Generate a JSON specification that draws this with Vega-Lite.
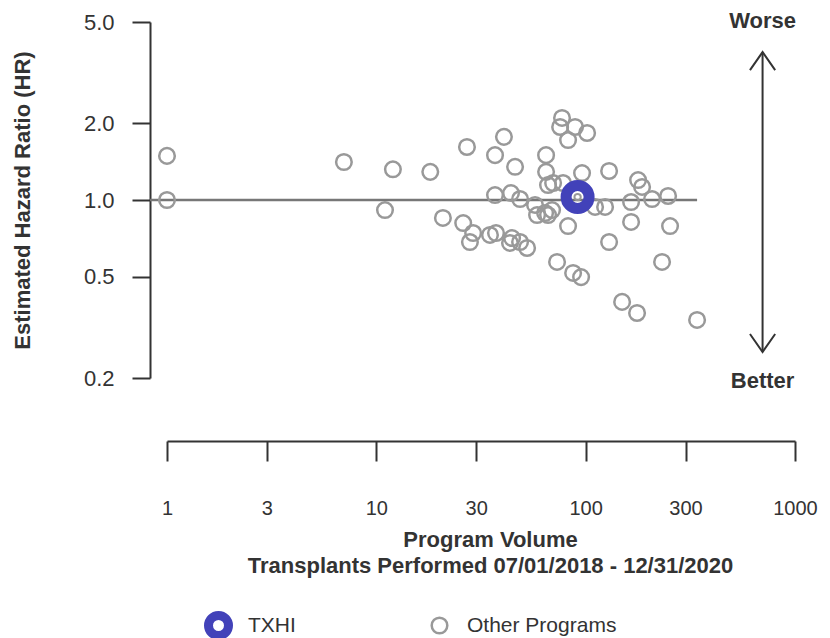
{
  "$schema": "https://vega.github.io/schema/vega-lite/v6.json",
  "autosize": {"type": "none"},
  "width": 628,
  "height": 356,
  "padding": {"left": 167, "top": 22, "right": 35, "bottom": 260},
  "background": "white",
  "config": {
    "view": {"stroke": null},
    "font": "Liberation Sans",
    "axis": {"grid": false, "domainColor": "#333", "tickColor": "#333", "domainWidth": 2, "tickWidth": 2, "labelColor": "#333", "titleColor": "#333", "labelFont": "Liberation Sans", "titleFont": "Liberation Sans", "labelFlush": false, "labelOverlap": false},
    "legend": {"orient": "none", "direction": "horizontal", "padding": 0, "labelFontSize": 21, "labelFont": "Liberation Sans", "labelColor": "#333", "title": null}
  },
  "resolve": {"scale": {"color": "independent"}, "legend": {"color": "independent"}},
  "datasets": {
    "programs": [
      {"volume": 1, "hr": 1.49, "group": "Other Programs"},
      {"volume": 1, "hr": 1.0, "group": "Other Programs"},
      {"volume": 7.0, "hr": 1.41, "group": "Other Programs"},
      {"volume": 12.0, "hr": 1.32, "group": "Other Programs"},
      {"volume": 18.1, "hr": 1.29, "group": "Other Programs"},
      {"volume": 11.0, "hr": 0.913, "group": "Other Programs"},
      {"volume": 20.8, "hr": 0.85, "group": "Other Programs"},
      {"volume": 27.1, "hr": 1.615, "group": "Other Programs"},
      {"volume": 40.7, "hr": 1.77, "group": "Other Programs"},
      {"volume": 36.9, "hr": 1.5, "group": "Other Programs"},
      {"volume": 46.0, "hr": 1.35, "group": "Other Programs"},
      {"volume": 64.7, "hr": 1.5, "group": "Other Programs"},
      {"volume": 77.1, "hr": 2.1, "group": "Other Programs"},
      {"volume": 75.5, "hr": 1.935, "group": "Other Programs"},
      {"volume": 89.0, "hr": 1.935, "group": "Other Programs"},
      {"volume": 101.6, "hr": 1.833, "group": "Other Programs"},
      {"volume": 82.4, "hr": 1.72, "group": "Other Programs"},
      {"volume": 64.7, "hr": 1.29, "group": "Other Programs"},
      {"volume": 66.1, "hr": 1.145, "group": "Other Programs"},
      {"volume": 69.9, "hr": 1.166, "group": "Other Programs"},
      {"volume": 78.0, "hr": 1.166, "group": "Other Programs"},
      {"volume": 96.1, "hr": 1.276, "group": "Other Programs"},
      {"volume": 129.4, "hr": 1.3, "group": "Other Programs"},
      {"volume": 178, "hr": 1.198, "group": "Other Programs"},
      {"volume": 186, "hr": 1.125, "group": "Other Programs"},
      {"volume": 247.6, "hr": 1.037, "group": "Other Programs"},
      {"volume": 207.6, "hr": 1.009, "group": "Other Programs"},
      {"volume": 164.8, "hr": 0.982, "group": "Other Programs"},
      {"volume": 123.8, "hr": 0.939, "group": "Other Programs"},
      {"volume": 110.9, "hr": 0.939, "group": "Other Programs"},
      {"volume": 36.9, "hr": 1.046, "group": "Other Programs"},
      {"volume": 44.0, "hr": 1.065, "group": "Other Programs"},
      {"volume": 48.6, "hr": 1.009, "group": "Other Programs"},
      {"volume": 57.3, "hr": 0.956, "group": "Other Programs"},
      {"volume": 58.6, "hr": 0.873, "group": "Other Programs"},
      {"volume": 64.0, "hr": 0.889, "group": "Other Programs"},
      {"volume": 66.1, "hr": 0.873, "group": "Other Programs"},
      {"volume": 69.1, "hr": 0.913, "group": "Other Programs"},
      {"volume": 26.0, "hr": 0.812, "group": "Other Programs"},
      {"volume": 29.0, "hr": 0.742, "group": "Other Programs"},
      {"volume": 28.0, "hr": 0.684, "group": "Other Programs"},
      {"volume": 34.9, "hr": 0.729, "group": "Other Programs"},
      {"volume": 37.3, "hr": 0.742, "group": "Other Programs"},
      {"volume": 44.5, "hr": 0.709, "group": "Other Programs"},
      {"volume": 43.5, "hr": 0.678, "group": "Other Programs"},
      {"volume": 48.6, "hr": 0.684, "group": "Other Programs"},
      {"volume": 52.5, "hr": 0.648, "group": "Other Programs"},
      {"volume": 82.4, "hr": 0.79, "group": "Other Programs"},
      {"volume": 164.8, "hr": 0.82, "group": "Other Programs"},
      {"volume": 253, "hr": 0.79, "group": "Other Programs"},
      {"volume": 129.4, "hr": 0.684, "group": "Other Programs"},
      {"volume": 73.0, "hr": 0.571, "group": "Other Programs"},
      {"volume": 87.1, "hr": 0.517, "group": "Other Programs"},
      {"volume": 95.1, "hr": 0.498, "group": "Other Programs"},
      {"volume": 231.7, "hr": 0.571, "group": "Other Programs"},
      {"volume": 149.3, "hr": 0.398, "group": "Other Programs"},
      {"volume": 176, "hr": 0.36, "group": "Other Programs"},
      {"volume": 340.6, "hr": 0.338, "group": "Other Programs"},
      {"volume": 91.5, "hr": 1.027, "group": "TXHI"}
    ],
    "reference": [{"from": 0.83, "to": 340.6, "hr": 1}],
    "arrow": [{"volume": 700, "top": 3.81, "bottom": 0.253}],
    "labels": [
      {"volume": 700, "hr": 4.74, "text": "Worse"},
      {"volume": 700, "hr": 0.1827, "text": "Better"}
    ]
  },
  "layer": [
    {
      "data": {"name": "reference"},
      "mark": {"type": "rule", "color": "#777", "strokeWidth": 2.5},
      "encoding": {
        "x": {"field": "from", "type": "quantitative", "scale": {"type": "log", "domain": [1, 1000], "nice": false},
          "axis": {"values": [1, 3, 10, 30, 100, 300, 1000], "format": "d", "offset": 63, "tickSize": 20, "labelFontSize": 20, "labelPadding": 37,
            "title": ["Program Volume", "Transplants Performed 07/01/2018 - 12/31/2020"], "titleFontSize": 22, "titleFontWeight": "bold", "titleLineHeight": 26, "titleX": 323, "titleY": 88, "titleBaseline": "top", "titleAnchor": "middle", "titleAlign": "center"}},
        "x2": {"field": "to"},
        "y": {"field": "hr", "type": "quantitative", "scale": {"type": "log", "domain": [0.2, 5], "nice": false},
          "axis": {"values": [0.2, 0.5, 1, 2, 5], "format": ".1f", "offset": 17, "tickSize": 18, "labelFontSize": 22, "labelPadding": 18,
            "title": "Estimated Hazard Ratio (HR)", "titleFontSize": 22, "titleFontWeight": "bold", "titleAngle": -90, "titleX": -128, "titleY": 178, "titleBaseline": "middle", "titleAlign": "center"}}
      }
    },
    {
      "data": {"name": "programs"},
      "transform": [{"filter": "datum.group !== 'TXHI'"}],
      "mark": {"type": "point", "filled": false, "shape": "circle", "opacity": 1, "size": 243, "strokeWidth": 2.5},
      "encoding": {
        "x": {"field": "volume", "type": "quantitative"},
        "y": {"field": "hr", "type": "quantitative"},
        "color": {"field": "group", "type": "nominal", "scale": {"domain": ["Other Programs"], "range": ["#999999"]},
          "legend": {"legendX": 262, "legendY": 593, "symbolSize": 243, "symbolStrokeWidth": 2.5, "labelOffset": 17, "symbolType": "circle"}}
      }
    },
    {
      "data": {"name": "programs"},
      "transform": [{"filter": "datum.group === 'TXHI'"}],
      "mark": {"type": "point", "filled": false, "shape": "circle", "opacity": 1, "size": 529, "strokeWidth": 11},
      "encoding": {
        "x": {"field": "volume", "type": "quantitative"},
        "y": {"field": "hr", "type": "quantitative"},
        "color": {"field": "group", "type": "nominal", "scale": {"domain": ["TXHI"], "range": ["#4242B9"]},
          "legend": {"legendX": 37, "legendY": 589, "symbolSize": 400, "symbolStrokeWidth": 9, "labelOffset": 15, "symbolType": "circle"}}
      }
    },
    {
      "data": {"name": "programs"},
      "transform": [{"filter": "datum.group === 'TXHI'"}],
      "mark": {"type": "point", "filled": false, "shape": "circle", "color": "#999999", "strokeWidth": 2, "size": 40, "opacity": 1},
      "encoding": {
        "x": {"field": "volume", "type": "quantitative"},
        "y": {"field": "hr", "type": "quantitative"}
      }
    },
    {
      "data": {"name": "arrow"},
      "mark": {"type": "rule", "color": "#333", "strokeWidth": 2},
      "encoding": {
        "x": {"field": "volume", "type": "quantitative"},
        "y": {"field": "top", "type": "quantitative"},
        "y2": {"field": "bottom"}
      }
    },
    {
      "data": {"name": "arrow"},
      "mark": {"type": "point", "filled": false, "shape": "M -0.7 1 L 0 0 L 0.7 1", "color": "#333", "strokeWidth": 2, "size": 1296, "opacity": 1},
      "encoding": {
        "x": {"field": "volume", "type": "quantitative"},
        "y": {"field": "top", "type": "quantitative"}
      }
    },
    {
      "data": {"name": "arrow"},
      "mark": {"type": "point", "filled": false, "shape": "M -0.7 -1 L 0 0 L 0.7 -1", "color": "#333", "strokeWidth": 2, "size": 1296, "opacity": 1},
      "encoding": {
        "x": {"field": "volume", "type": "quantitative"},
        "y": {"field": "bottom", "type": "quantitative"}
      }
    },
    {
      "data": {"name": "labels"},
      "mark": {"type": "text", "fontSize": 22, "fontWeight": "bold", "color": "#333", "align": "center", "baseline": "alphabetic", "font": "Liberation Sans"},
      "encoding": {
        "x": {"field": "volume", "type": "quantitative"},
        "y": {"field": "hr", "type": "quantitative"},
        "text": {"field": "text"}
      }
    }
  ]
}
